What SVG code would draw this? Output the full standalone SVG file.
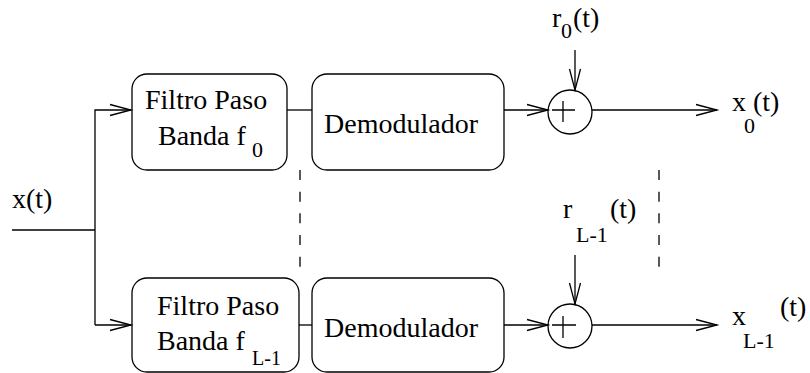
<svg xmlns="http://www.w3.org/2000/svg" width="810" height="373" viewBox="0 0 810 373">
<style>
.box{fill:none;stroke:#000;stroke-width:1.3}
.ln{fill:none;stroke:#000;stroke-width:1.3}
.dash{fill:none;stroke:#000;stroke-width:1.3;stroke-dasharray:10 11.67}
text{font-family:"Liberation Serif","Times New Roman",serif;font-size:28px;fill:#000}
.sub{font-size:22px}
</style>
<defs>
<marker id="arr" markerUnits="userSpaceOnUse" markerWidth="24" markerHeight="14" refX="21" refY="6" orient="auto" overflow="visible">
<path d="M0,0.5 L21,6 L0,11.5" fill="none" stroke="#000" stroke-width="1.3"/>
</marker>
</defs>
<rect width="810" height="373" fill="#fff"/>
<g id="connectors">
<path class="ln" d="M12,230 H95"/>
<path class="ln" d="M95,325 V110 H131" marker-end="url(#arr)"/>
<path class="ln" d="M95,325 H131" marker-end="url(#arr)"/>
<path class="ln" d="M287,110 H312"/>
<path class="ln" d="M299,325 H312"/>
<path class="ln" d="M504,110 H548" marker-end="url(#arr)"/>
<path class="ln" d="M504,325 H548" marker-end="url(#arr)"/>
<path class="ln" d="M575,50 V90" marker-end="url(#arr)"/>
<path class="ln" d="M575,255 V304" marker-end="url(#arr)"/>
<path class="ln" d="M592,110 H717" marker-end="url(#arr)"/>
<path class="ln" d="M592,325 H717" marker-end="url(#arr)"/>
<path class="dash" d="M300,170 V267"/>
<path class="dash" d="M659,170 V267"/>
</g>
<g id="input-label"><text x="12" y="208">x(t)</text></g>
<g id="filter0">
<rect class="box" x="132" y="74" width="155" height="96" rx="15"/>
<text x="145" y="109">Filtro Paso</text>
<text x="158" y="145">Banda f</text>
<text class="sub" x="252" y="157">0</text>
</g>
<g id="demod0">
<rect class="box" x="312" y="74" width="192" height="96" rx="15"/>
<text x="324" y="133">Demodulador</text>
</g>
<g id="sum0">
<circle class="box" cx="570" cy="112" r="22"/>
<path class="ln" d="M552,110 H575 M563,101 V122"/>
</g>
<g id="r0-label">
<text x="552" y="27">r</text>
<text class="sub" x="561" y="38">0</text>
<text x="573" y="27">(t)</text>
</g>
<g id="x0-label">
<text x="732" y="111">x</text>
<text x="753" y="111">(t)</text>
<text class="sub" x="744" y="133">0</text>
</g>
<g id="filterL">
<rect class="box" x="132" y="278" width="167" height="94" rx="15"/>
<text x="157" y="315">Filtro Paso</text>
<text x="157" y="350">Banda f</text>
<text class="sub" x="252" y="365" style="font-size:20px">L-1</text>
</g>
<g id="demodL">
<rect class="box" x="312" y="278" width="192" height="94" rx="15"/>
<text x="324" y="337">Demodulador</text>
</g>
<g id="sumL">
<circle class="box" cx="570" cy="326" r="22"/>
<path class="ln" d="M552,325 H576 M563,316 V338"/>
</g>
<g id="rL-label">
<text x="563" y="218">r</text>
<text class="sub" x="576" y="242">L-1</text>
<text x="610" y="218">(t)</text>
</g>
<g id="xL-label">
<text x="732" y="325">x</text>
<text class="sub" x="743" y="348">L-1</text>
<text x="780" y="316">(t)</text>
</g>
</svg>
